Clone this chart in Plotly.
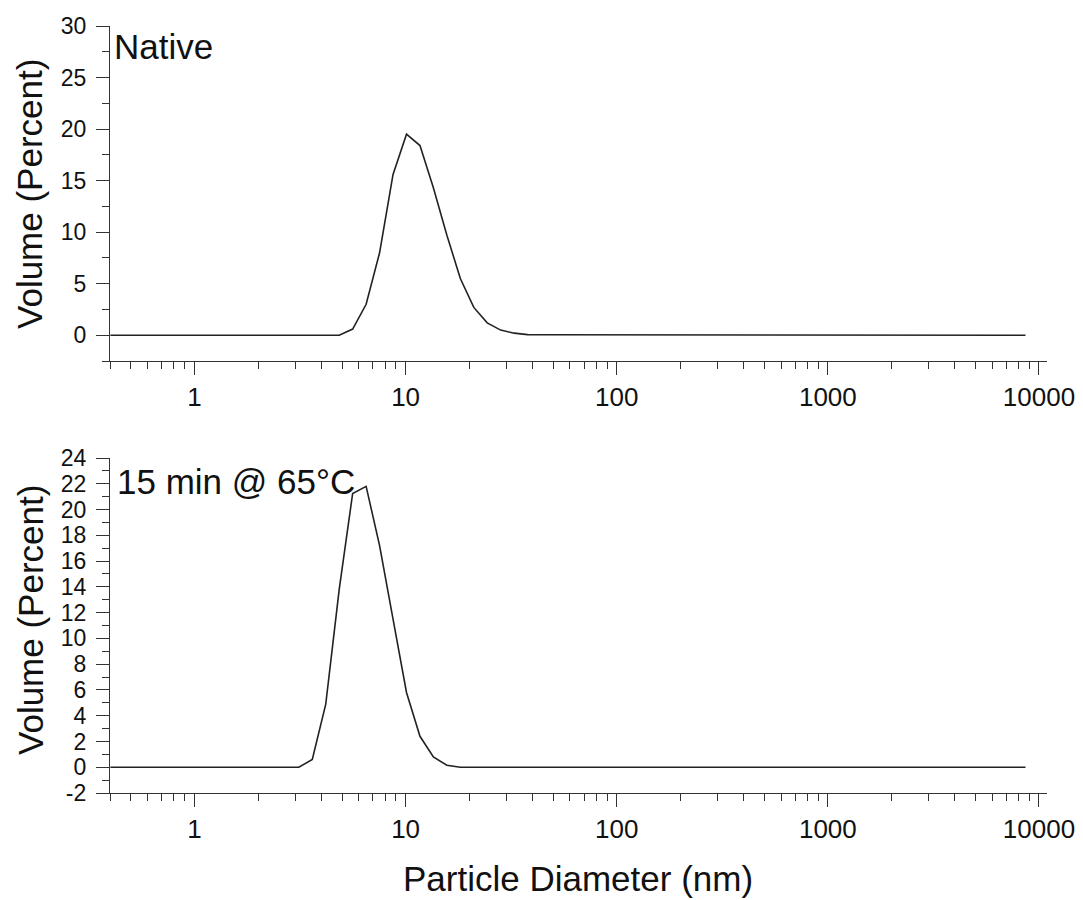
import plotly.graph_objects as go

# Size classes (nm)
diameter_nm = [0.4000, 0.4632, 0.5365, 0.6213, 0.7195, 0.8332, 0.9649, 1.117, 1.294, 1.499,
               1.736, 2.010, 2.328, 2.696, 3.122, 3.615, 4.187, 4.849, 5.615, 6.503,
               7.531, 8.721, 10.10, 11.70, 13.54, 15.69, 18.17, 21.04, 24.36, 28.21,
               32.67, 37.84, 43.82, 50.75, 58.77, 68.06, 78.82, 91.28, 105.7, 122.4,
               141.8, 164.2, 190.1, 220.2, 255.0, 295.3, 342.0, 396.1, 458.7, 531.2,
               615.1, 712.4, 825.0, 955.4, 1106, 1281, 1484, 1718, 1990, 2305,
               2669, 3091, 3580, 4145, 4801, 5560, 6439, 7456, 8635]

native_volume = [0]*17 + [0.0, 0.6, 3.0, 8.0, 15.6, 19.5, 18.4, 14.3, 9.7, 5.5,
                          2.7, 1.2, 0.5, 0.2, 0.06, 0.04, 0.04, 0.04, 0.04, 0.04,
                          0.04, 0.04, 0.04, 0.04] + [0]*28

heated_volume = [0]*14 + [0.0, 0.6, 4.9, 13.8, 21.25, 21.8, 17.2, 11.5, 5.8, 2.4,
                          0.8, 0.15, 0.0] + [0]*42

x_tick_vals = [1, 10, 100, 1000, 10000]
x_tick_text = ["1", "10", "100", "1000", "10000"]

y1_tick_vals = [0, 5, 10, 15, 20, 25, 30]
y1_tick_text = ["0", "5", "10", "15", "20", "25", "30"]
y2_tick_vals = [-2, 0, 2, 4, 6, 8, 10, 12, 14, 16, 18, 20, 22, 24]
y2_tick_text = ["-2", "0", "2", "4", "6", "8", "10", "12", "14", "16", "18", "20", "22", "24"]

panel_labels = ["Native", "15 min @ 65°C"]
y_title = "Volume (Percent)"
x_title = "Particle Diameter (nm)"

W, H = 1083, 900
FONT = "Liberation Sans, Arial, sans-serif"
LINE = "#333333"

def px_x(p):
    return p / W

def px_y(p):
    return 1 - p / H

fig = go.Figure()
fig.add_trace(go.Scatter(x=diameter_nm, y=native_volume, mode="lines",
                         line=dict(color="#222222", width=1.6), xaxis="x", yaxis="y",
                         showlegend=False))
fig.add_trace(go.Scatter(x=diameter_nm, y=heated_volume, mode="lines",
                         line=dict(color="#222222", width=1.6), xaxis="x2", yaxis="y2",
                         showlegend=False))

xdom = [px_x(110), px_x(1047)]

def xaxis_common(anchor):
    return dict(type="log", range=[-0.40, 4.038], domain=xdom, anchor=anchor,
                automargin=False,
                showline=True, linecolor=LINE, linewidth=1.3, showgrid=False, zeroline=False,
                ticks="outside", ticklen=13, tickwidth=1.3, tickcolor=LINE,
                tickvals=x_tick_vals, ticktext=x_tick_text,
                minor=dict(ticks="outside", ticklen=7, tickwidth=1.2, tickcolor=LINE,
                           dtick="D1", showgrid=False),
                tickfont=dict(family=FONT, size=26, color="#111111"))

def yaxis_common(anchor, dom, rng, tv, tt, mdtick):
    return dict(domain=dom, anchor=anchor, range=rng, tickvals=tv, ticktext=tt,
                automargin=False, ticklabelstandoff=5,
                showline=True, linecolor=LINE, linewidth=1.3, showgrid=False, zeroline=False,
                ticks="outside", ticklen=13, tickwidth=1.3, tickcolor=LINE,
                minor=dict(ticks="outside", ticklen=7, tickwidth=1.2, tickcolor=LINE,
                           dtick=mdtick, tick0=0, showgrid=False),
                tickfont=dict(family=FONT, size=23, color="#111111"))

fig.update_layout(
    width=W, height=H,
    margin=dict(l=0, r=0, t=0, b=0, autoexpand=False),
    paper_bgcolor="white", plot_bgcolor="white",
    xaxis=xaxis_common("y"),
    yaxis=yaxis_common("x", [px_y(361), px_y(26)], [-2.5, 30], y1_tick_vals, y1_tick_text, 2.5),
    xaxis2=xaxis_common("y2"),
    yaxis2=yaxis_common("x2", [px_y(793), px_y(458)], [-2, 24], y2_tick_vals, y2_tick_text, 1),
    font=dict(family=FONT, color="#111111"),
)

annos = [
    dict(text=panel_labels[0], x=px_x(112), y=px_y(46), xanchor="left", yanchor="middle"),
    dict(text=panel_labels[1], x=px_x(115), y=px_y(481), xanchor="left", yanchor="middle"),
    dict(text=y_title, x=px_x(30), y=px_y(194), xanchor="center", yanchor="middle", textangle=-90),
    dict(text=y_title, x=px_x(30), y=px_y(620), xanchor="center", yanchor="middle", textangle=-90),
    dict(text=x_title, x=px_x(578), y=px_y(878), xanchor="center", yanchor="middle"),
]
for a in annos:
    fig.add_annotation(xref="paper", yref="paper", showarrow=False,
                       font=dict(family=FONT, size=35, color="#111111"), **a)

fig.write_html("out.html", config={"displayModeBar": False},
               post_script="document.body.style.margin='0';document.body.style.padding='0';")
